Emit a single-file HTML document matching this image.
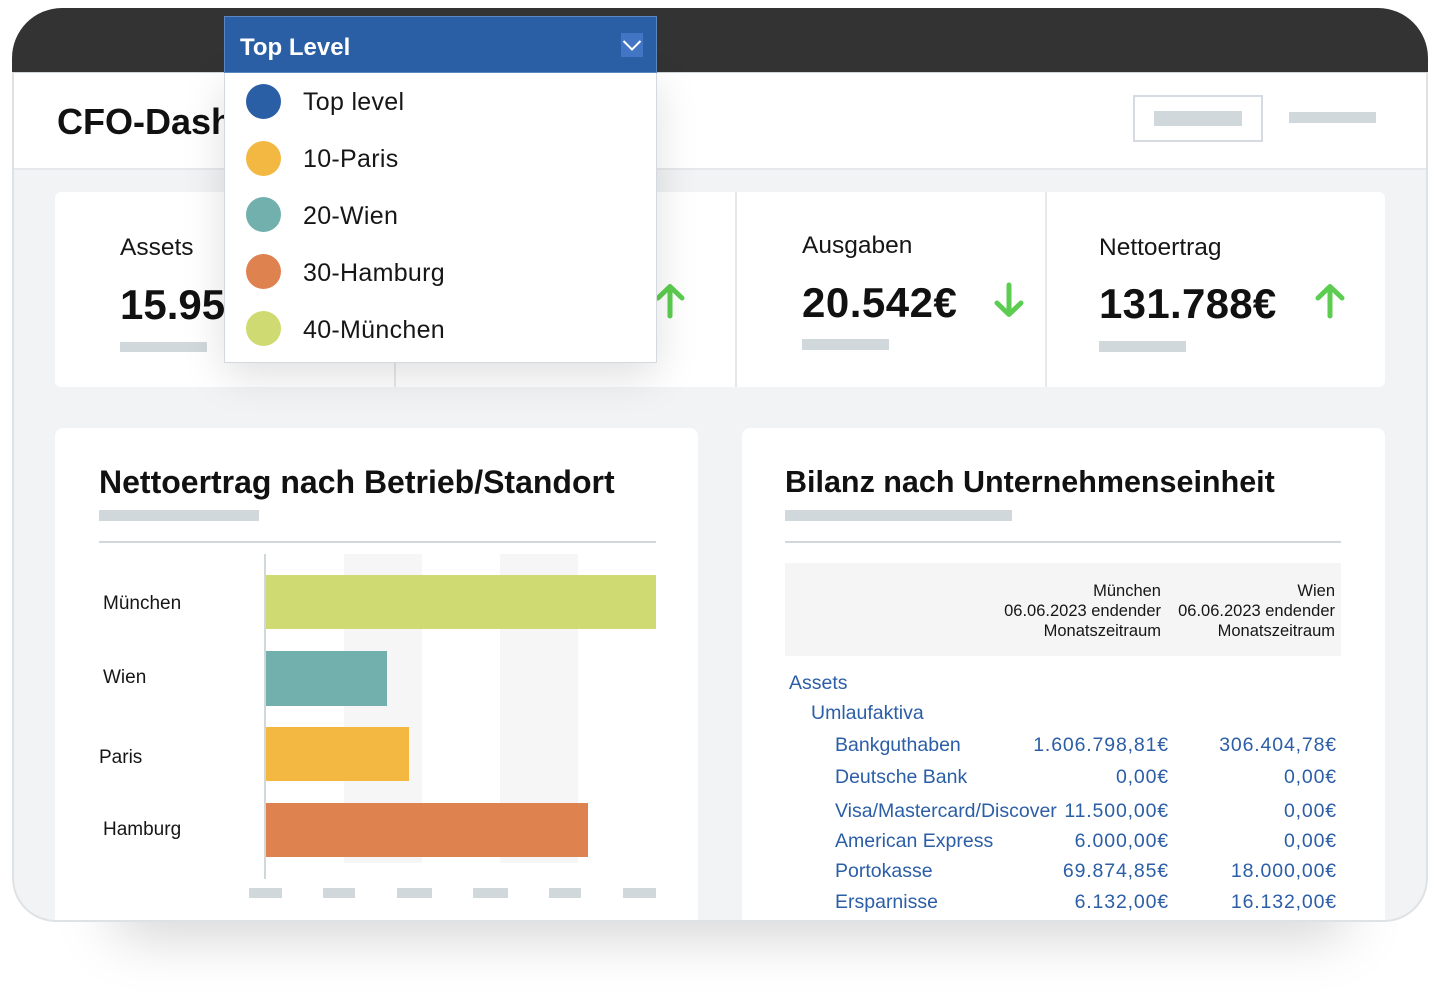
<!DOCTYPE html>
<html><head><meta charset="utf-8">
<style>
*{box-sizing:border-box;margin:0;padding:0}
body{width:1440px;height:995px;background:#fff;position:relative;overflow:hidden;font-family:"Liberation Sans",sans-serif;color:#111}
.a{position:absolute}
.t{position:absolute;line-height:1;white-space:nowrap;margin-top:1.5px}
.bar{position:absolute;background:#d1d8dc}
.dot{position:absolute;width:35px;height:35px;border-radius:50%;left:246px}
.it{position:absolute;left:303px;font-size:25px;line-height:1;color:#161616;letter-spacing:0.3px;margin-top:1.5px}
.r{position:absolute;line-height:1;white-space:nowrap;font-size:19.5px;color:#2b5ea6;margin-top:1.5px}
.v{position:absolute;line-height:1;white-space:nowrap;font-size:19.5px;color:#2b5ea6;letter-spacing:0.85px;text-align:right;margin-top:1.5px}
.lab{position:absolute;font-size:19px;line-height:1;color:#161616;margin-top:1.5px}
.kl{position:absolute;font-size:24.5px;line-height:1;color:#161616;margin-top:1.5px}
.kv{position:absolute;font-size:42px;font-weight:bold;line-height:1;color:#111;white-space:nowrap;margin-top:1px}
.hd{margin-top:1px}
</style></head><body>

<!-- shadow under frame -->
<div class="a" style="left:110px;top:880px;width:1240px;height:55px;background:rgba(0,0,0,0.18);filter:blur(28px);border-radius:40px"></div>

<!-- frame -->
<div class="a" style="left:12px;top:8px;width:1416px;height:66px;background:#333333;border-radius:50px 50px 0 0"></div>
<div class="a" style="left:12px;top:72px;width:1416px;height:850px;background:#f2f3f4;border:2px solid #dfe2e5;border-top:1px solid #cfd4d8;border-radius:0 0 44px 44px"></div>
<div class="a" style="left:14px;top:73px;width:1412px;height:97px;background:#fff;border-bottom:2px solid #e6e9ec"></div>

<div class="t" style="left:57px;top:102px;font-size:36px;font-weight:bold;color:#111">CFO-Dashboard</div>

<!-- header right placeholders -->
<div class="a" style="left:1133px;top:95px;width:130px;height:47px;border:2px solid #d5dbe0;background:#fff"></div>
<div class="bar" style="left:1154px;top:111px;width:88px;height:15px"></div>
<div class="bar" style="left:1289px;top:112px;width:87px;height:11px"></div>

<!-- KPI card -->
<div class="a" style="left:55px;top:192px;width:1330px;height:195px;background:#fff;border-radius:6px"></div>
<div class="a" style="left:394px;top:192px;width:2px;height:195px;background:#e6e9ec"></div>
<div class="a" style="left:735px;top:192px;width:2px;height:195px;background:#e6e9ec"></div>
<div class="a" style="left:1045px;top:192px;width:2px;height:195px;background:#e6e9ec"></div>

<div class="kl" style="left:120px;top:234px">Assets</div>
<div class="kv" style="left:120px;top:283px">15.954€</div>
<div class="bar" style="left:120px;top:342px;width:87px;height:10px"></div>

<div class="kl" style="left:460px;top:234px">Einnahmen</div>
<div class="kv" style="left:460px;top:283px">152.330€</div>
<div class="bar" style="left:460px;top:342px;width:87px;height:10px"></div>
<svg class="a" style="left:654px;top:283px" width="32" height="36" viewBox="0 0 32 36"><g stroke="#5ccd50" stroke-width="5" fill="none" stroke-linecap="round" stroke-linejoin="round"><line x1="16" y1="33" x2="16" y2="4"/><polyline points="4,15 16,3.5 28,15"/></g></svg>

<div class="kl" style="left:802px;top:232px">Ausgaben</div>
<div class="kv" style="left:802px;top:281px;letter-spacing:0.5px">20.542€</div>
<div class="bar" style="left:802px;top:339px;width:87px;height:11px"></div>
<svg class="a" style="left:993px;top:282px" width="32" height="36" viewBox="0 0 32 36"><g stroke="#5ccd50" stroke-width="5" fill="none" stroke-linecap="round" stroke-linejoin="round"><line x1="16" y1="3" x2="16" y2="32"/><polyline points="4,21 16,32.5 28,21"/></g></svg>

<div class="kl" style="left:1099px;top:234px">Nettoertrag</div>
<div class="kv" style="left:1099px;top:282px;letter-spacing:0.3px">131.788€</div>
<div class="bar" style="left:1099px;top:341px;width:87px;height:11px"></div>
<svg class="a" style="left:1314px;top:283px" width="32" height="36" viewBox="0 0 32 36"><g stroke="#5ccd50" stroke-width="5" fill="none" stroke-linecap="round" stroke-linejoin="round"><line x1="16" y1="33" x2="16" y2="4"/><polyline points="4,15 16,3.5 28,15"/></g></svg>

<!-- Left chart card -->
<div class="a" style="left:55px;top:428px;width:643px;height:492px;background:#fff;border-radius:8px 8px 0 0"></div>
<div class="t" style="left:99px;top:464px;font-size:32px;font-weight:bold;color:#111">Nettoertrag nach Betrieb/Standort</div>
<div class="bar" style="left:99px;top:510px;width:160px;height:11px"></div>
<div class="a" style="left:99px;top:541px;width:557px;height:2px;background:#d1d8dc"></div>

<div class="a" style="left:344px;top:554px;width:78px;height:309px;background:#f6f6f6"></div>
<div class="a" style="left:500px;top:554px;width:78px;height:309px;background:#f6f6f6"></div>
<div class="a" style="left:266px;top:575px;width:390px;height:54px;background:#cfda72"></div>
<div class="a" style="left:266px;top:651px;width:121px;height:55px;background:#72b0ae"></div>
<div class="a" style="left:266px;top:727px;width:143px;height:54px;background:#f3b842"></div>
<div class="a" style="left:266px;top:803px;width:322px;height:54px;background:#de8250"></div>
<div class="a" style="left:264px;top:554px;width:2px;height:325px;background:#d1d8dc"></div>

<div class="lab" style="left:103px;top:592px">München</div>
<div class="lab" style="left:103px;top:666px">Wien</div>
<div class="lab" style="left:99px;top:746px">Paris</div>
<div class="lab" style="left:103px;top:818px">Hamburg</div>

<div class="bar" style="left:249px;top:888px;width:33px;height:10px"></div>
<div class="bar" style="left:323px;top:888px;width:32px;height:10px"></div>
<div class="bar" style="left:397px;top:888px;width:35px;height:10px"></div>
<div class="bar" style="left:473px;top:888px;width:35px;height:10px"></div>
<div class="bar" style="left:549px;top:888px;width:32px;height:10px"></div>
<div class="bar" style="left:623px;top:888px;width:33px;height:10px"></div>

<!-- Right card -->
<div class="a" style="left:742px;top:428px;width:643px;height:492px;background:#fff;border-radius:8px 8px 0 0"></div>
<div class="t" style="left:785px;top:465px;font-size:30.5px;font-weight:bold;color:#111">Bilanz nach Unternehmenseinheit</div>
<div class="bar" style="left:785px;top:510px;width:227px;height:11px"></div>
<div class="a" style="left:785px;top:541px;width:556px;height:2px;background:#d1d8dc"></div>

<div class="a" style="left:785px;top:563px;width:556px;height:93px;background:#f5f5f5"></div>
<div class="a hd" style="right:279px;top:580px;font-size:16.5px;line-height:20px;text-align:right;color:#161616;white-space:nowrap">München<br>06.06.2023 endender<br>Monatszeitraum</div>
<div class="a hd" style="right:105px;top:580px;font-size:16.5px;line-height:20px;text-align:right;color:#161616;white-space:nowrap">Wien<br>06.06.2023 endender<br>Monatszeitraum</div>

<div class="r" style="left:789px;top:672px">Assets</div>
<div class="r" style="left:811px;top:702px">Umlaufaktiva</div>

<div class="r" style="left:835px;top:734px">Bankguthaben</div>
<div class="v" style="right:271px;top:734px">1.606.798,81€</div>
<div class="v" style="right:103px;top:734px">306.404,78€</div>

<div class="r" style="left:835px;top:766px">Deutsche Bank</div>
<div class="v" style="right:271px;top:766px">0,00€</div>
<div class="v" style="right:103px;top:766px">0,00€</div>

<div class="r" style="left:835px;top:800px">Visa/Mastercard/Discover</div>
<div class="v" style="right:271px;top:800px">11.500,00€</div>
<div class="v" style="right:103px;top:800px">0,00€</div>

<div class="r" style="left:835px;top:830px">American Express</div>
<div class="v" style="right:271px;top:830px">6.000,00€</div>
<div class="v" style="right:103px;top:830px">0,00€</div>

<div class="r" style="left:835px;top:860px">Portokasse</div>
<div class="v" style="right:271px;top:860px">69.874,85€</div>
<div class="v" style="right:103px;top:860px">18.000,00€</div>

<div class="r" style="left:835px;top:891px">Ersparnisse</div>
<div class="v" style="right:271px;top:891px">6.132,00€</div>
<div class="v" style="right:103px;top:891px">16.132,00€</div>

<!-- Dropdown -->
<div class="a" style="left:224px;top:72px;width:433px;height:291px;background:#fff;border:1px solid #d3d9de;box-shadow:0 12px 40px rgba(0,0,0,0.13)"></div>
<div class="a" style="left:224px;top:16px;width:433px;height:57px;background:#2a5fa5;border:1px solid #5a86c2"></div>
<div class="t" style="left:240px;top:34px;font-size:24px;font-weight:bold;color:#fff">Top Level</div>
<div class="a" style="left:621px;top:33px;width:22px;height:24px;background:#4275c4"></div>
<svg class="a" style="left:621px;top:33px" width="22" height="24" viewBox="0 0 22 24"><polyline points="2.5,8 11,16.5 19.5,8" fill="none" stroke="#fff" stroke-width="2"/></svg>

<div class="dot" style="top:83.5px;background:#2a5fa5"></div>
<div class="it" style="top:88.8px">Top level</div>
<div class="dot" style="top:140.5px;background:#f3b842"></div>
<div class="it" style="top:145.8px">10-Paris</div>
<div class="dot" style="top:197px;background:#72b0ae"></div>
<div class="it" style="top:202.3px">20-Wien</div>
<div class="dot" style="top:254px;background:#de8250"></div>
<div class="it" style="top:259.3px">30-Hamburg</div>
<div class="dot" style="top:311px;background:#cfda72"></div>
<div class="it" style="top:316.3px">40-München</div>

</body></html>
